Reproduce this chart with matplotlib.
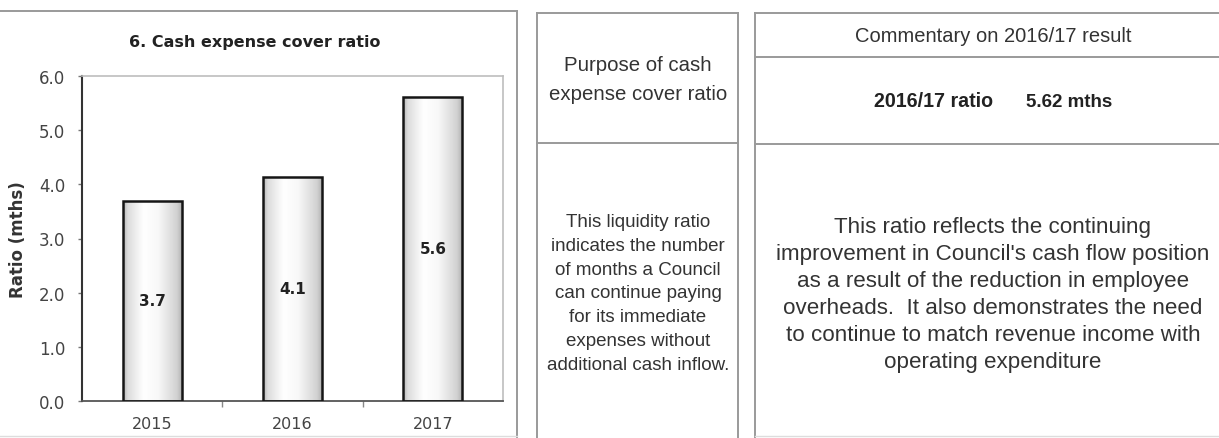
import numpy as np
import matplotlib
matplotlib.use("Agg")
import matplotlib.pyplot as plt
from matplotlib.lines import Line2D
from matplotlib.ticker import FixedLocator

# ---- data ----
years = ["2015", "2016", "2017"]
ratios = [3.70, 4.14, 5.62]
y_ticks = [0, 1, 2, 3, 4, 5, 6]

chart_title = "6. Cash expense cover ratio"
y_title = "Ratio (mths)"
purpose_head = "Purpose of cash\nexpense cover ratio"
purpose_body = ("This liquidity ratio\nindicates the number\nof months a Council\n"
                "can continue paying\nfor its immediate\nexpenses without\n"
                "additional cash inflow.")
comment_head = "Commentary on 2016/17 result"
result_label = "2016/17 ratio"
comment_body = ("This ratio reflects the continuing\n"
                "improvement in Council's cash flow position\n"
                "as a result of the reduction in employee\n"
                "overheads.  It also demonstrates the need\n"
                "to continue to match revenue income with\n"
                "operating expenditure")

W, H = 1219, 439
fig = plt.figure(figsize=(W / 100, H / 100), dpi=100)
fig.patch.set_facecolor("white")


def fx(x):
    return x / W


def fy(y):
    return 1 - y / H


def hline(y, x0, x1, color="#9a9a9a", lw=1.4):
    fig.add_artist(Line2D([fx(x0), fx(x1)], [fy(y), fy(y)], color=color, lw=lw,
                          transform=fig.transFigure))


def vline(x, y0, y1, color="#9a9a9a", lw=1.4):
    fig.add_artist(Line2D([fx(x), fx(x)], [fy(y0), fy(y1)], color=color, lw=lw,
                          transform=fig.transFigure))


# ---- bar chart ----
ax = fig.add_axes([fx(82), fy(402), fx(503 - 82), (402 - 77) / H])
xpos = np.arange(len(years))
bars = ax.bar(xpos, ratios, width=0.42, facecolor="none", edgecolor="#151515",
              linewidth=1.8, zorder=3)

# cylinder-like horizontal shading inside each bar
t = np.linspace(0, 1, 256)
shade = np.interp(t, [0, 0.08, 0.35, 0.6, 0.92, 1.0],
                  [0.70, 0.86, 1.0, 0.97, 0.82, 0.70])
grad = shade[np.newaxis, :]
for b in bars:
    im = ax.imshow(grad, cmap="gray", vmin=0, vmax=1, aspect="auto",
                   interpolation="bicubic", zorder=2,
                   extent=[b.get_x(), b.get_x() + b.get_width(), 0, b.get_height()])
    im.set_clip_path(b)

ax.bar_label(bars, labels=[f"{v:.1f}" for v in ratios], label_type="center",
             fontsize=11, fontweight="bold", color="#222222")

ax.set_xlim(-0.5, len(years) - 0.5)
ax.set_ylim(y_ticks[0], y_ticks[-1])
ax.set_yticks(y_ticks)
ax.set_yticklabels([f"{v:.1f}" for v in y_ticks])
ax.set_xticks(xpos)
ax.set_xticklabels(years)
ax.xaxis.set_minor_locator(FixedLocator(xpos[:-1] + 0.5))

ax.tick_params(axis="y", direction="out", length=3, width=1, color="#777777",
               pad=9, labelsize=12, labelcolor="#444444")
ax.tick_params(axis="x", which="major", length=0, pad=11, labelsize=11.5,
               labelcolor="#444444")
ax.tick_params(axis="x", which="minor", direction="out", length=4, width=1,
               color="#888888")

ax.spines["left"].set_color("#333333")
ax.spines["left"].set_linewidth(1.5)
ax.spines["bottom"].set_color("#555555")
ax.spines["bottom"].set_linewidth(1.3)
for s in ("top", "right"):
    ax.spines[s].set_color("#bdbdbd")
    ax.spines[s].set_linewidth(1.2)

fig.text(fx(255), fy(42), chart_title, ha="center", va="center", fontsize=11.5,
         fontweight="bold", color="#222222")
fig.text(fx(18), fy(240), y_title, ha="center", va="center", rotation=90,
         fontsize=12, fontweight="bold", color="#333333")

# ---- panel frames ----
hline(12, 0, 517)
vline(517, 12, 439)
hline(437, 0, 517, color="#dddddd", lw=1.0)

hline(14, 537, 738)
vline(537, 14, 439)
vline(738, 14, 439)
hline(144, 537, 738)

hline(14, 755, W)
vline(755, 14, 439)
hline(58, 755, W)
hline(145, 755, W)
hline(437, 755, W, color="#dddddd", lw=1.0)

# ---- text panels ----
sans = ["Liberation Sans", "DejaVu Sans"]
txt = "#333333"
fig.text(fx(638), fy(80), purpose_head, ha="center", va="center",
         multialignment="center", fontsize=14.7, linespacing=1.65,
         family=sans, color=txt)
fig.text(fx(638), fy(294), purpose_body, ha="center", va="center",
         multialignment="center", fontsize=13.5, linespacing=1.53,
         family=sans, color=txt)

fig.text(fx(993), fy(37), comment_head, ha="center", va="center", fontsize=14.5,
         family=sans, color=txt)
fig.text(fx(934), fy(107), result_label, ha="center", va="baseline", fontsize=14.1,
         fontweight="bold", family=sans, color="#222222")
fig.text(fx(1069), fy(107), f"{ratios[-1]:.2f} mths", ha="center", va="baseline",
         fontsize=13.5, fontweight="bold", family=sans, color="#222222")
fig.text(fx(993), fy(295), comment_body, ha="center", va="center",
         multialignment="center", fontsize=16.1, linespacing=1.37,
         family=sans, color=txt)

fig.savefig("out.png", dpi=100, facecolor="white")
